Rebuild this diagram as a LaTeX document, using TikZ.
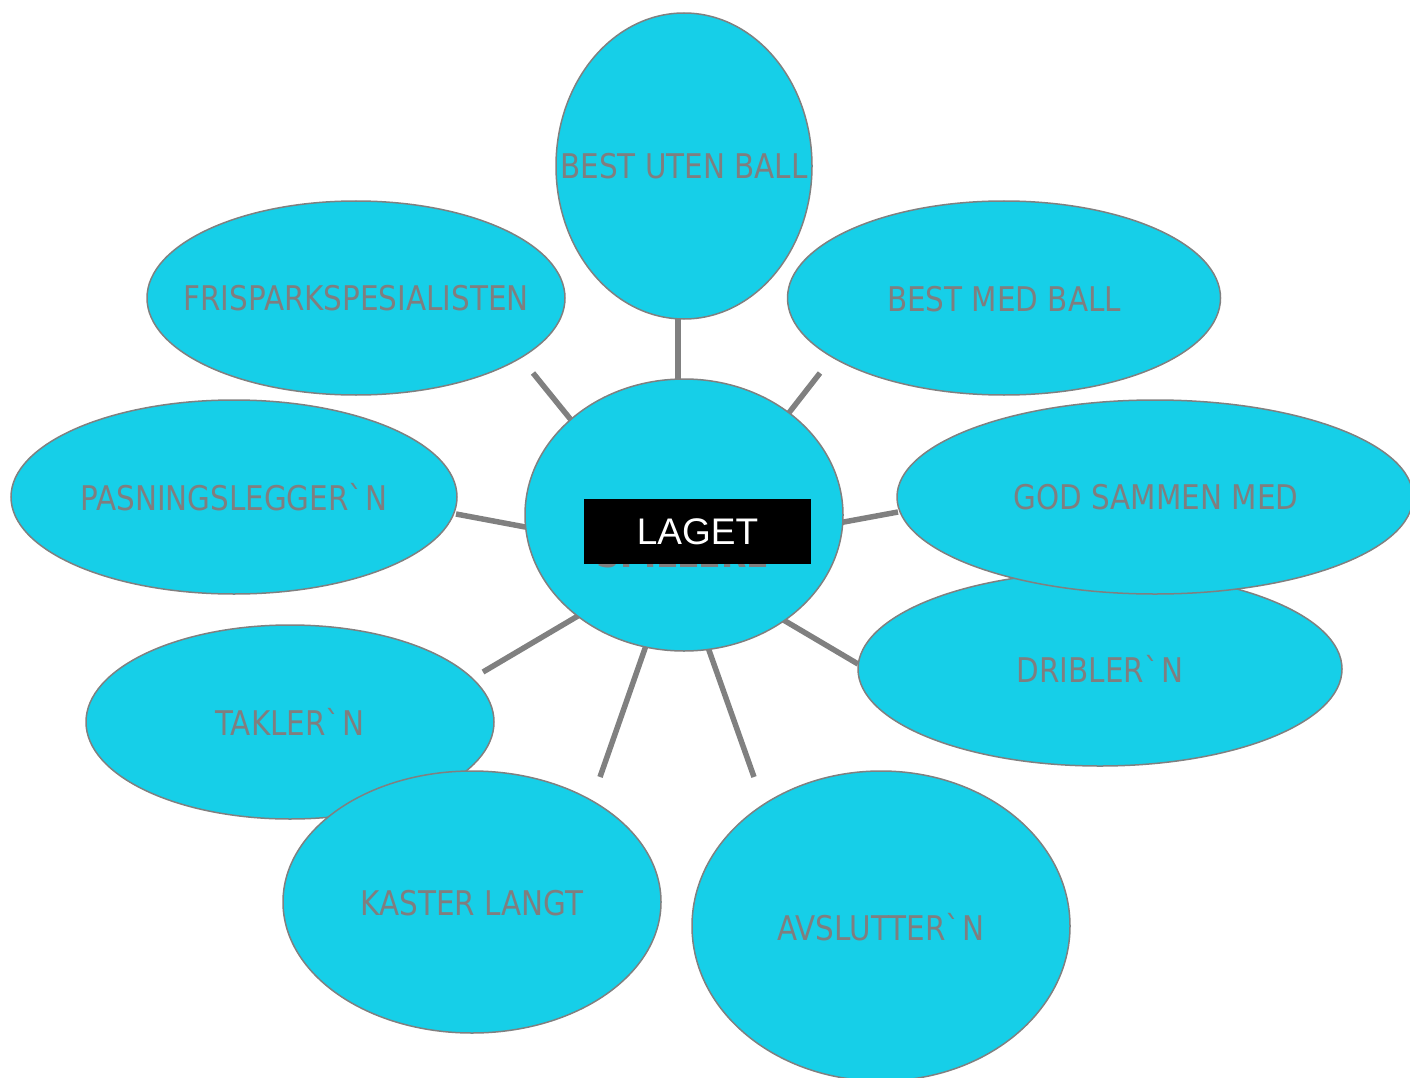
\documentclass[tikz,border=0pt]{standalone}
\usepackage{fontspec}
\setmainfont{Liberation Sans}
\newfontfamily\labfont[FakeStretch=0.865]{DejaVu Sans}
\usetikzlibrary{shapes.geometric}
\definecolor{petal}{RGB}{22,207,232}
\definecolor{rim}{RGB}{128,128,128}
\definecolor{ink}{RGB}{128,126,127}
\tikzset{
  blob/.style={ellipse, draw=rim, line width=1.5pt, fill=petal, inner sep=0pt},
  lab/.style={font=\labfont\fontsize{34}{40}\selectfont, text=ink, inner sep=0pt},
  spoke/.style={draw=rim, line width=5.5pt}
}
\begin{document}
\begin{tikzpicture}[x=1pt,y=-1pt]
\path[use as bounding box] (0,0) rectangle (1410,1078);
\clip (0,0) rectangle (1410,1078);

% spokes around the hub
\coordinate (s1a) at (678,318); \coordinate (s1b) at (678,390);
\coordinate (s2a) at (533,373); \coordinate (s2b) at (580,431);
\coordinate (s3a) at (820,373); \coordinate (s3b) at (781,423);
\coordinate (s4a) at (456,514); \coordinate (s4b) at (536,529);
\coordinate (s5a) at (898,512); \coordinate (s5b) at (833,524);
\coordinate (s6a) at (483,672); \coordinate (s6b) at (588,610);
\coordinate (s7a) at (858,664); \coordinate (s7b) at (775,615);
\coordinate (s8a) at (600,777); \coordinate (s8b) at (649,637);
\coordinate (s9a) at (754,777); \coordinate (s9b) at (705,639);
\foreach \i in {1,...,9} {\draw[spoke] (s\i a) -- (s\i b);}

% outer petals
\node[blob, minimum width=256pt, minimum height=306pt] (e1) at (684,166) {};
\node[blob, minimum width=418pt, minimum height=194pt] (e2) at (356,298) {};
\node[blob, minimum width=433pt, minimum height=194pt] (e3) at (1004,298) {};
\node[blob, minimum width=446pt, minimum height=194pt] (e4) at (234,497) {};
\node[blob, minimum width=484pt, minimum height=194pt] (e6) at (1100,669) {};
\node[blob, minimum width=516pt, minimum height=194pt] (e5) at (1155,497) {};
\node[blob, minimum width=408pt, minimum height=194pt] (e7) at (290,722) {};
\node[blob, minimum width=378pt, minimum height=262pt] (e8) at (472,902) {};
\node[blob, minimum width=378pt, minimum height=310pt] (e9) at (881,926) {};

\node[lab] (t1) at (684,166) {BEST UTEN BALL};
\node[lab] (t2) at (356,298) {FRISPARKSPESIALISTEN};
\node[lab] (t3) at (1004,299) {BEST MED BALL};
\node[lab] (t4) at (234,497) {PASNINGSLEGGER\textasciigrave N};
\node[lab] (t5) at (1156,497) {GOD SAMMEN MED};
\node[lab] (t6) at (1100,669) {DRIBLER\textasciigrave N};
\node[lab] (t7) at (290,722) {TAKLER\textasciigrave N};
\node[lab] (t8) at (472,903) {KASTER LANGT};
\node[lab] (t9) at (881,927) {AVSLUTTER\textasciigrave N};

% hub, its caption partly covered by the team banner
\node[blob, minimum width=318pt, minimum height=272pt] (hub) at (684,515) {};
\node[lab, font=\labfont\bfseries\fontsize{38}{42}\selectfont] (hubtxt) at (683,554) {SPILLERE};
\node[fill=black, minimum width=227pt, minimum height=65pt, inner sep=0pt,
      text=white, font=\fontsize{37}{40}\selectfont] (team) at (697.5,531.5) {LAGET};
\end{tikzpicture}
\end{document}
